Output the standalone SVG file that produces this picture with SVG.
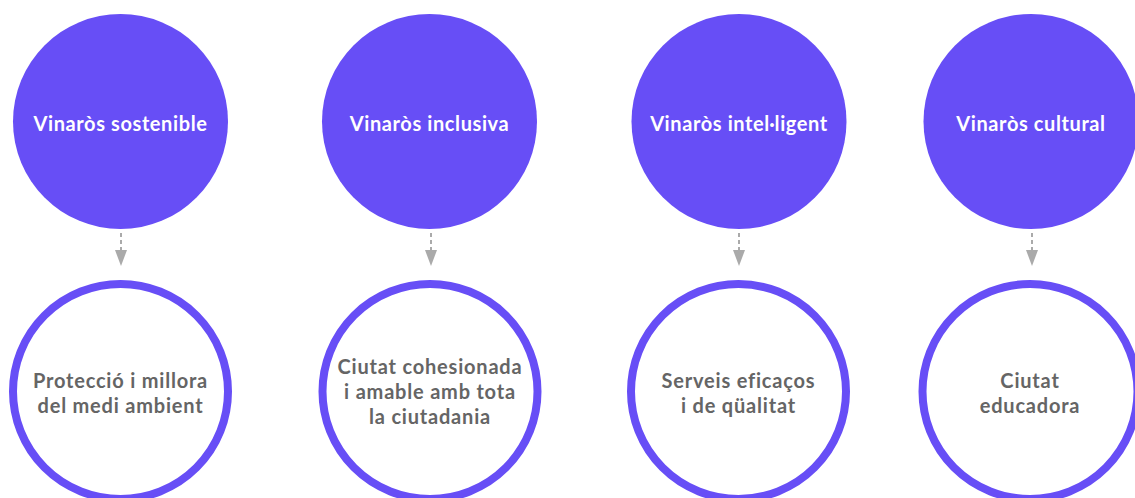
<svg xmlns="http://www.w3.org/2000/svg" width="1135" height="498" viewBox="0 0 1135 498">
<style>
.top{fill:#674ef6}
.bot{fill:#fff;stroke:#674ef6;stroke-width:8}
.tt{font-family:Lato,"Noto Sans",sans-serif;font-weight:700;font-size:20px;letter-spacing:0.6px;fill:#fff;text-anchor:middle}
.bt{font-family:Lato,"Noto Sans",sans-serif;font-weight:700;font-size:20px;letter-spacing:0.8px;fill:#656565;text-anchor:middle}
.dash{stroke:#aaa;stroke-width:2;stroke-dasharray:4 3;fill:none}
.head{fill:#aaa}
</style>
<rect width="1135" height="498" fill="#fff"/>
<g id="connectors">
<line class="dash" x1="121" y1="233" x2="121" y2="251"/><polygon class="head" points="115,250 127,250 121,266"/>
<line class="dash" x1="431" y1="233" x2="431" y2="251"/><polygon class="head" points="425,250 437,250 431,266"/>
<line class="dash" x1="739" y1="233" x2="739" y2="251"/><polygon class="head" points="733,250 745,250 739,266"/>
<line class="dash" x1="1032" y1="233" x2="1032" y2="251"/><polygon class="head" points="1026,250 1038,250 1032,266"/>
</g>
<g id="n1"><circle class="top" cx="120.5" cy="121.5" r="107.5"/><text class="tt" x="120.5" y="131">Vinaròs sostenible</text></g>
<g id="n2"><circle class="top" cx="429.5" cy="121.5" r="107.5"/><text class="tt" x="429.5" y="131">Vinaròs inclusiva</text></g>
<g id="n3"><circle class="top" cx="739" cy="121.5" r="107.5"/><text class="tt" x="739" y="131">Vinaròs intel·ligent</text></g>
<g id="n4"><circle class="top" cx="1031" cy="121.5" r="107.5"/><text class="tt" x="1031" y="131">Vinaròs cultural</text></g>
<g id="b1"><circle class="bot" cx="120.5" cy="391.5" r="107.5"/><text class="bt" x="120.5" y="388">Protecció i millora</text><text class="bt" x="120.5" y="413">del medi ambient</text></g>
<g id="b2"><circle class="bot" cx="430" cy="391.5" r="107.5"/><text class="bt" x="430" y="374">Ciutat cohesionada</text><text class="bt" x="430" y="399">i amable amb tota</text><text class="bt" x="430" y="424">la ciutadania</text></g>
<g id="b3"><circle class="bot" cx="738.5" cy="391.5" r="107.5"/><text class="bt" x="738.5" y="388">Serveis eficaços</text><text class="bt" x="738.5" y="413">i de qüalitat</text></g>
<g id="b4"><circle class="bot" cx="1030" cy="391.5" r="107.5"/><text class="bt" x="1030" y="388">Ciutat</text><text class="bt" x="1030" y="413">educadora</text></g>
</svg>
